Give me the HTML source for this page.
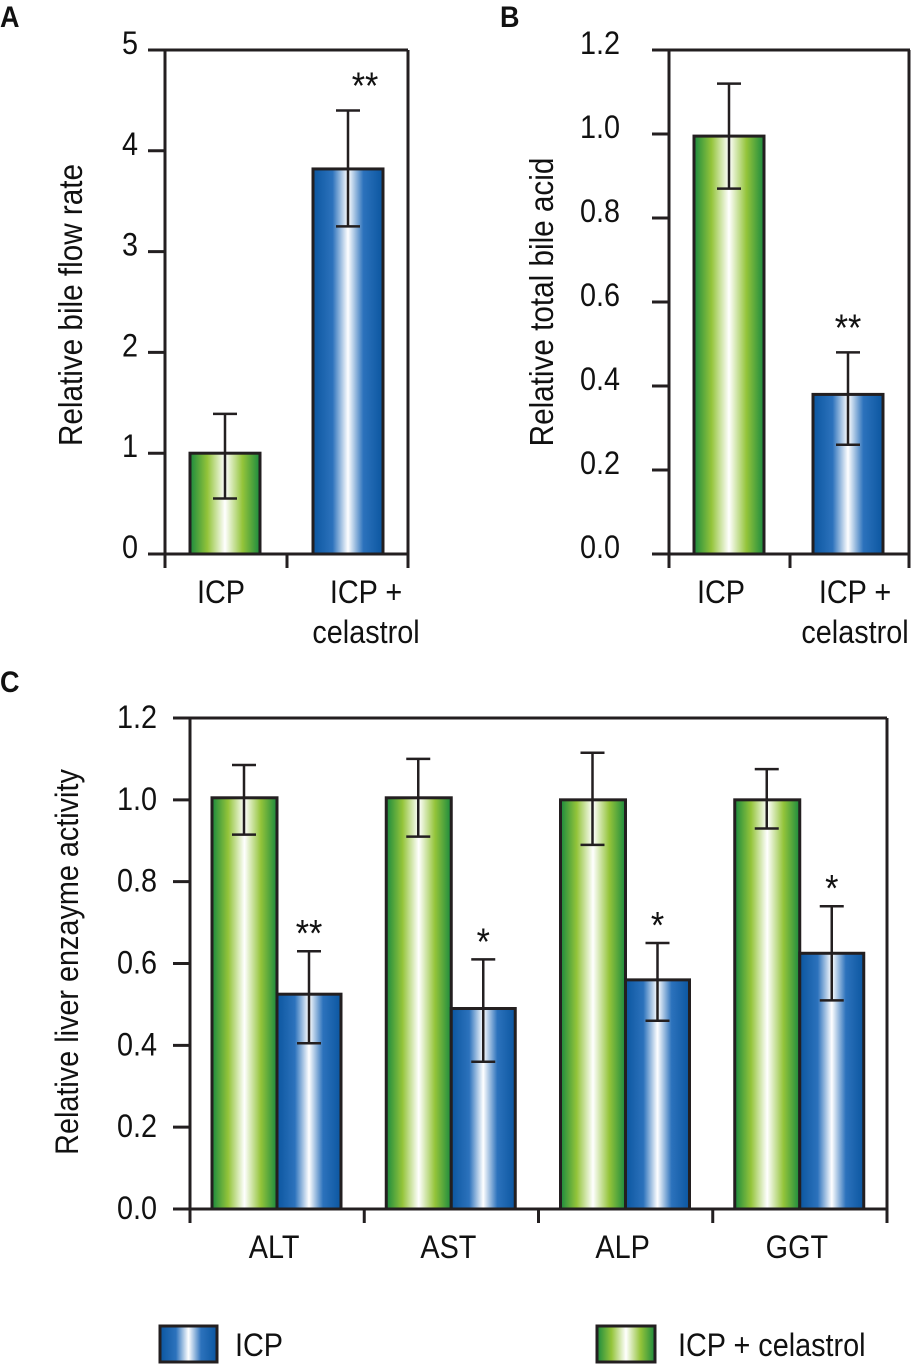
<!DOCTYPE html>
<html><head><meta charset="utf-8"><style>
html,body{margin:0;padding:0;background:#fff;}
svg text{font-family:"Liberation Sans",sans-serif;fill:#111;}
</style></head><body>
<svg id="c" width="911" height="1366" viewBox="0 0 911 1366" xmlns="http://www.w3.org/2000/svg">
<defs>
<linearGradient id="gG" x1="0" x2="1" y1="0" y2="0">
<stop offset="0" stop-color="#1a8a3e"/><stop offset="0.25" stop-color="#94c43a"/><stop offset="0.5" stop-color="#ffffff"/><stop offset="0.75" stop-color="#94c43a"/><stop offset="1" stop-color="#1a8a3e"/>
</linearGradient>
<linearGradient id="gB" x1="0" x2="1" y1="0" y2="0">
<stop offset="0" stop-color="#0b56a0"/><stop offset="0.28" stop-color="#2c72bc"/><stop offset="0.5" stop-color="#ffffff"/><stop offset="0.72" stop-color="#2c72bc"/><stop offset="1" stop-color="#0b56a0"/>
</linearGradient>
</defs>
</svg>
<script>
const aCats=["ICP","ICP +|celastrol"];
const aVals=[1.0,3.82];
const aLo=[0.55,3.25];
const aHi=[1.39,4.4];
const aSig=["","**"];
const aTicks=[0,1,2,3,4,5];
const bVals=[0.995,0.38];
const bLo=[0.87,0.26];
const bHi=[1.12,0.48];
const bSig=["","**"];
const bTicks=["0.0","0.2","0.4","0.6","0.8","1.0","1.2"];
const cCats=["ALT","AST","ALP","GGT"];
const cGreen=[1.005,1.005,1.0,1.0];
const cGreenLo=[0.915,0.91,0.89,0.93];
const cGreenHi=[1.085,1.1,1.115,1.075];
const cBlue=[0.525,0.49,0.56,0.625];
const cBlueLo=[0.405,0.36,0.46,0.51];
const cBlueHi=[0.63,0.61,0.65,0.74];
const cSig=["**","*","*","*"];
const cTicks=["0.0","0.2","0.4","0.6","0.8","1.0","1.2"];

const svg=document.getElementById('c');
const NS='http://www.w3.org/2000/svg';
const SX=0.9;
function mk(tag,attrs,parent){const e=document.createElementNS(NS,tag);for(const k in attrs)e.setAttribute(k,attrs[k]);(parent||svg).appendChild(e);return e;}
function line(x1,y1,x2,y2,w,name){const l=mk('line',{x1,y1,x2,y2,stroke:'#231f20','stroke-width':w||3});

return l;}
function txt(x,y,s,size,anchor,name,extra,rot){
 const tf='translate('+x+','+y+')'+(rot?' rotate(-90)':'')+' scale('+SX+',1)';
 const t=mk('text',Object.assign({x:0,y:0,'font-size':size,'text-anchor':anchor||'middle',transform:tf},extra||{}));t.textContent=s;
 
 return t;}
function bar(x,w,y0,y1,fill,name){const r=mk('rect',{x,y:y1,width:w,height:y0-y1,fill,stroke:'#231f20','stroke-width':3});

}
function err(cx,ylo,yhi,name){line(cx,ylo,cx,yhi,2.5,name);line(cx-12,ylo,cx+12,ylo,2.5,name);line(cx-12,yhi,cx+12,yhi,2.5,name);}

// Panel A
(function(){
 const L=165,R=408,T=50,B=554,max=5;const y=v=>B-(v/max)*(B-T);
 txt(0,27,"A",30,'start','panel-label-a',{'font-weight':'bold'});
 line(L,T,R,T);line(L,T,L,568);line(R,T,R,568);line(L,B,R,B);line(287,B,287,568);
 aTicks.forEach(v=>{line(148,y(v),L,y(v));txt(138,y(v)+4,String(v),32,'end','y-tick-label');});
 const xs=[190,313];
 aVals.forEach((v,i)=>{bar(xs[i],70,B,y(v),i?'url(#gB)':'url(#gG)',i?'bar-icp-celastrol':'bar-icp');
  err(xs[i]+35,y(aLo[i]),y(aHi[i]),'error-bar');
  if(aSig[i])txt(xs[i]+52,y(aHi[i])-12,aSig[i],38,'middle','significance-marker');
  const p=aCats[i].split('|');p.forEach((s,j)=>txt(xs[i]+35+(i?18:-4),603+j*40,s,32,'middle','x-tick-label'));});
 txt(82,305,"Relative bile flow rate",33,'middle','y-axis-title',{},true);
})();
// Panel B
(function(){
 const L=669,R=910,T=50,B=554,max=1.2;const y=v=>B-(v/max)*(B-T);
 txt(500,27,"B",30,'start','panel-label-b',{'font-weight':'bold'});
 line(L,T,R,T);line(L,T,L,568);line(R-1,T,R-1,568);line(L,B,R,B);line(790,B,790,568);
 bTicks.forEach(s=>{const v=parseFloat(s);line(652,y(v),L,y(v));txt(620,y(v)+4,s,32,'end','y-tick-label');});
 const xs=[694,813];
 bVals.forEach((v,i)=>{bar(xs[i],70,B,y(v),i?'url(#gB)':'url(#gG)',i?'bar-icp-celastrol':'bar-icp');
  err(xs[i]+35,y(bLo[i]),y(bHi[i]),'error-bar');
  if(bSig[i])txt(xs[i]+35,y(bHi[i])-12,bSig[i],38,'middle','significance-marker');
  const p=aCats[i].split('|');p.forEach((s,j)=>txt(xs[i]+35+(i?7:-8),603+j*40,s,32,'middle','x-tick-label'));});
 txt(553,302,"Relative total bile acid",33,'middle','y-axis-title',{},true);
})();
// Panel C
(function(){
 const L=190,R=887,T=718,B=1209,max=1.2;const y=v=>B-(v/max)*(B-T);const gw=(R-L)/cCats.length;
 txt(0,692,"C",30,'start','panel-label-c',{'font-weight':'bold'});
 line(L,T,R,T);line(L,T,L,1223);line(R,T,R,1223);line(L,B,R,B);
 for(let i=1;i<cCats.length;i++)line(L+gw*i,B,L+gw*i,1223);
 cTicks.forEach(s=>{const v=parseFloat(s);line(173,y(v),L,y(v));txt(157,y(v)+10,s,32,'end','y-tick-label');});
 cCats.forEach((c,i)=>{const x0=L+gw*i;
  bar(x0+22,65,B,y(cGreen[i]),'url(#gG)','bar-green-'+c.toLowerCase());
  bar(x0+87,64,B,y(cBlue[i]),'url(#gB)','bar-blue-'+c.toLowerCase());
  err(x0+54,y(cGreenLo[i]),y(cGreenHi[i]),'error-bar');
  err(x0+119,y(cBlueLo[i]),y(cBlueHi[i]),'error-bar');
  txt(x0+119,y(cBlueHi[i])-5,cSig[i],38,'middle','significance-marker');
  txt(x0+gw/2-3,1258,c,32,'middle','x-tick-label');});
 txt(78,962,"Relative liver enzayme activity",32,'middle','y-axis-title',{},true);
})();
// Legend
bar(160,57,1362,1326,'url(#gB)','legend-swatch-icp');
txt(235,1356,"ICP",32,'start','legend-label-icp');
bar(597,58,1362,1326,'url(#gG)','legend-swatch-icp-celastrol');
txt(678,1356,"ICP + celastrol",32,'start','legend-label-icp-celastrol');
</script>
</body></html>
